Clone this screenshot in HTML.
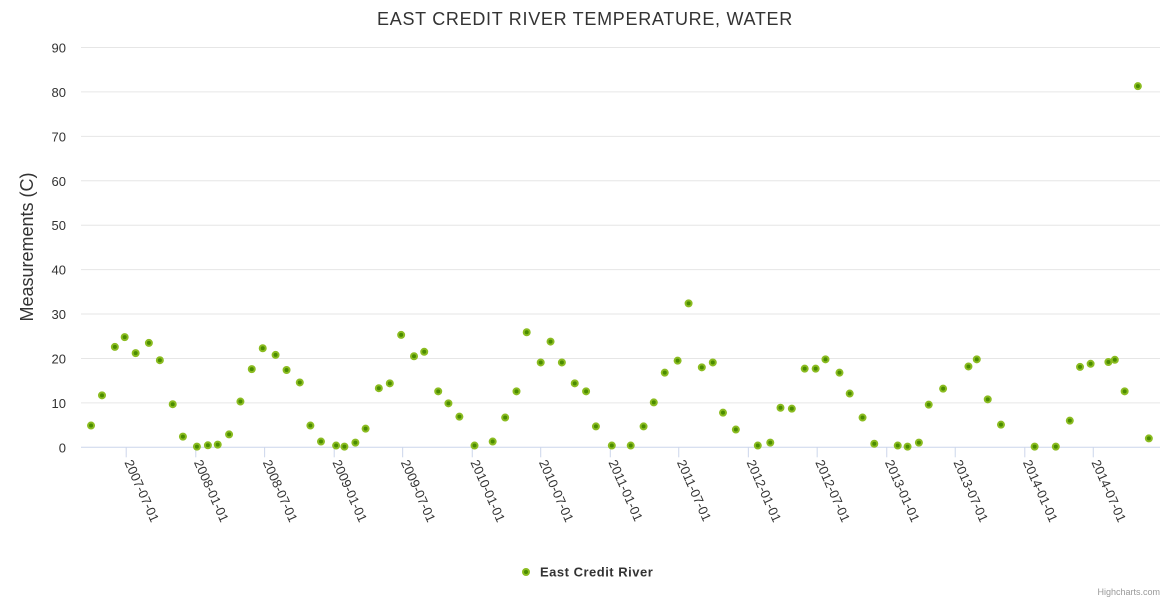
<!DOCTYPE html>
<html><head><meta charset="utf-8"><style>
html,body{margin:0;padding:0;background:#fff;}
svg{display:block;font-family:"Liberation Sans",sans-serif;}
</style></head><body>
<svg id="chart" width="1170" height="600" viewBox="0 0 1170 600" xmlns="http://www.w3.org/2000/svg">
<rect width="1170" height="600" fill="#fff"/>
<text x="585" y="25" text-anchor="middle" font-size="18" letter-spacing="0.7" fill="#333">EAST CREDIT RIVER TEMPERATURE, WATER</text>
<text transform="translate(33,247) rotate(-90)" text-anchor="middle" font-size="18" fill="#333">Measurements (C)</text>
<g id="grid"></g><g id="yticks"></g><g id="xticks"></g><g id="points"></g>
<g>
<circle cx="526" cy="572" r="3" fill="#4a8c00" stroke="#8bbc21" stroke-width="2"/>
<text x="540" y="576.5" font-size="13" letter-spacing="0.5" font-weight="bold" fill="#333">East Credit River</text>
</g>
<text x="1160" y="595" text-anchor="end" font-size="9" fill="#999">Highcharts.com</text>
</svg>
<script>
const dates = ["2007-03-30","2007-04-28","2007-06-01","2007-06-27","2007-07-26","2007-08-30","2007-09-28","2007-11-01","2007-11-28","2008-01-04","2008-02-02","2008-02-28","2008-03-29","2008-04-28","2008-05-28","2008-06-26","2008-07-30","2008-08-28","2008-10-02","2008-10-30","2008-11-27","2009-01-06","2009-01-28","2009-02-26","2009-03-25","2009-04-29","2009-05-28","2009-06-27","2009-07-31","2009-08-27","2009-10-03","2009-10-30","2009-11-28","2010-01-07","2010-02-24","2010-03-29","2010-04-28","2010-05-25","2010-07-01","2010-07-27","2010-08-26","2010-09-29","2010-10-29","2010-11-24","2011-01-05","2011-02-24","2011-03-30","2011-04-26","2011-05-25","2011-06-28","2011-07-27","2011-08-31","2011-09-29","2011-10-26","2011-11-29","2012-01-26","2012-02-28","2012-03-26","2012-04-25","2012-05-29","2012-06-27","2012-07-23","2012-08-29","2012-09-25","2012-10-29","2012-11-29","2013-01-30","2013-02-25","2013-03-27","2013-04-22","2013-05-30","2013-08-05","2013-08-27","2013-09-25","2013-10-30","2014-01-27","2014-03-24","2014-04-30","2014-05-27","2014-06-24","2014-08-10","2014-08-27","2014-09-22","2014-10-27","2014-11-25"];
const values = [4.9,11.7,22.6,24.8,21.2,23.5,19.6,9.7,2.4,0.15,0.45,0.6,2.9,10.3,17.6,22.3,20.8,17.4,14.6,4.9,1.3,0.4,0.15,1.05,4.2,13.3,14.4,25.3,20.5,21.5,12.6,9.9,6.9,0.4,1.3,6.7,12.6,25.9,19.1,23.8,19.1,14.4,12.6,4.7,0.4,0.4,4.7,10.1,16.8,19.5,32.4,18.0,19.1,7.8,4.0,0.4,1.05,8.9,8.7,17.7,17.7,19.8,16.8,12.1,6.7,0.8,0.4,0.15,1.05,9.6,13.2,18.2,19.8,10.8,5.1,0.15,0.15,6.0,18.1,18.8,19.2,19.7,12.6,81.3,2.0];
const yTicks = [0,10,20,30,40,50,60,70,80,90];
const xTicks = ["2007-07-01","2008-01-01","2008-07-01","2009-01-01","2009-07-01","2010-01-01","2010-07-01","2011-01-01","2011-07-01","2012-01-01","2012-07-01","2013-01-01","2013-07-01","2014-01-01","2014-07-01"];

const NS="http://www.w3.org/2000/svg";
const L=81, R=1160, T=47.5, B=447.3;
const DAY=86400000;
const t0=Date.UTC(2007,6,1);
const pxPerDay=0.3782;
const xMin=t0-(126.2-L)/pxPerDay*DAY, xMax=t0+(R-126.2)/pxPerDay*DAY;
function parse(s){const p=s.split("-");return Date.UTC(+p[0],+p[1]-1,+p[2]);}
function xs(t){return L+(t-xMin)/(xMax-xMin)*(R-L);}
function ys(v){return B-(v/90)*(B-T);}
function el(tag,attrs,parent){const e=document.createElementNS(NS,tag);for(const k in attrs)e.setAttribute(k,attrs[k]);parent.appendChild(e);return e;}

const grid=document.getElementById("grid"), yt=document.getElementById("yticks"), xt=document.getElementById("xticks"), pts=document.getElementById("points");
yTicks.forEach(v=>{
  const y=ys(v);
  const g=el("line",{x1:L,x2:R,y1:y,y2:y,stroke:v===0?"#ccd6eb":"#e6e6e6","stroke-width":1},grid);
  
  
  const t=el("text",{x:66,y:y+5,"text-anchor":"end","font-size":"13",fill:"#333"},yt);
  t.textContent=v;
  
  
});
xTicks.forEach(s=>{
  const x=xs(parse(s));
  const tk=el("line",{x1:x,x2:x,y1:B,y2:B+10,stroke:"#ccd6eb","stroke-width":1},xt);
  
  
  const t=el("text",{transform:`translate(${x-2},${B+15}) rotate(66)`,"font-size":"13",fill:"#333"},xt);
  t.textContent=s;
  
  
});
dates.forEach((d,i)=>{
  const c=el("circle",{cx:xs(parse(d)),cy:ys(values[i]),r:3,fill:"#4a8c00",stroke:"#8bbc21","stroke-width":2},pts);
  
  
});
</script>
</body></html>
